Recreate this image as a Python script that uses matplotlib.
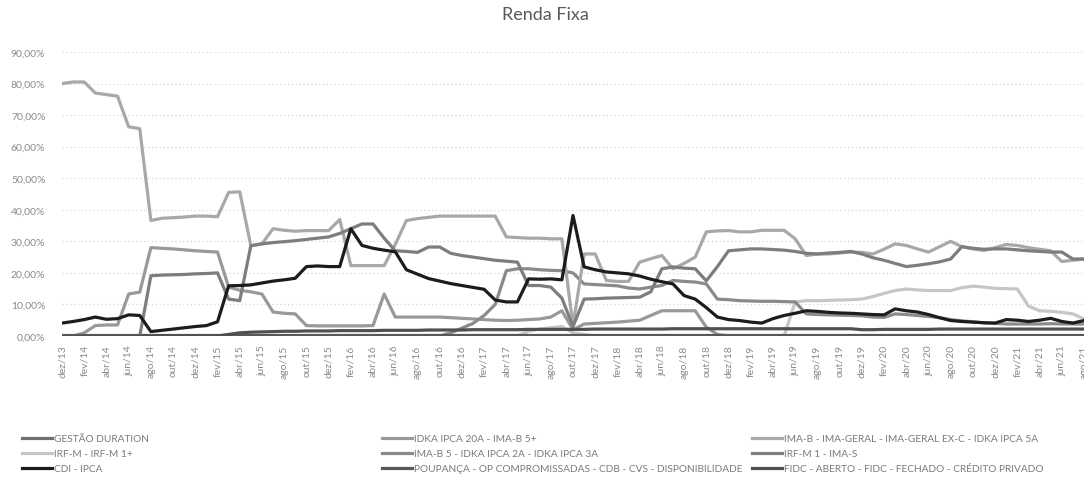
import matplotlib
matplotlib.use("Agg")
import matplotlib.pyplot as plt
from matplotlib.lines import Line2D

plt.rcParams['font.family'] = ['Lato', 'DejaVu Sans']

abbr = ["jan", "fev", "mar", "abr", "mai", "jun", "jul", "ago", "set", "out", "nov", "dez"]
months = ["dez/13"] + [f"{abbr[m]}/{y:02d}" for y in range(14, 22) for m in range(12)]
months = months[:93]  # dez/13 .. ago/21

s_imab = [80, 80.5, 80.5, 77, 76.5, 76, 66.3, 65.7, 36.6, 37.3, 37.5, 37.7,
          38, 38, 37.8, 45.5, 45.7, 28.6, 29.2, 34, 33.5, 33.2, 33.4, 33.4,
          33.4, 36.9, 22.3, 22.3, 22.3, 22.3, 29, 36.6, 37.2, 37.6, 38, 38,
          38, 38, 38, 38, 31.4, 31.2, 31, 31, 30.8, 30.8, 3.3, 26,
          26, 17.6, 17.3, 17.3, 23.4, 24.5, 25.5, 21.3, 23, 25, 33, 33.3,
          33.4, 33, 33, 33.5, 33.5, 33.5, 30.8, 25.5, 26, 26, 26.3, 26.6,
          26.5, 26, 27.5, 29.2, 28.7, 27.6, 26.6, 28.3, 30, 28.3, 27.6, 27.1,
          28, 29, 28.7, 28, 27.5, 27, 23.6, 24, 24.4]

s_irfm1 = [0, 0, 0, 0, 0, 0, 0, 0, 19.1, 19.3, 19.4, 19.5,
           19.7, 19.8, 20, 11.7, 11.2, 28.6, 29.2, 29.6, 29.9, 30.2, 30.6, 31,
           31.4, 32.5, 34, 35.5, 35.5, 31, 27, 26.8, 26.5, 28.2, 28.2, 26.2,
           25.5, 25, 24.5, 24, 23.7, 23.4, 16, 16, 15.5, 12, 3, 11.7,
           11.8, 12, 12.1, 12.2, 12.3, 14, 21.3, 21.9, 21.5, 21.3, 17.5, 22,
           27, 27.3, 27.6, 27.6, 27.4, 27.2, 26.8, 26.2, 26, 26.3, 26.5, 26.8,
           26, 24.8, 24, 23, 22, 22.4, 22.9, 23.5, 24.4, 28.3, 27.8, 27.5,
           27.6, 27.6, 27.3, 27, 26.8, 26.6, 26.6, 24.4, 24.4]

s_imab5 = [0] * 35 + [1, 2.5, 4, 6.5, 10, 20.7, 21.3, 21.3, 21, 20.8, 20.7, 20, 16.5,
           16.3, 16.1, 15.9, 15.2, 14.9, 15.5, 16, 17.6, 17.3, 17.1, 16.5, 11.7,
           11.5, 11.2, 11.1, 11, 11, 10.9, 10.8, 7, 6.8, 6.7, 6.6, 6.5,
           6.4, 6, 5.9, 7, 6.8, 6.5, 6.2, 5.8, 5.2, 4.8, 4.5, 4.2,
           4, 3.8, 3.8, 3.8, 3.8, 3.9, 3.8, 3.8, 3.8]

s_idka20 = [0, 0, 1, 3.3, 3.5, 3.5, 13.3, 13.9, 28, 27.8, 27.6, 27.3,
            27, 26.8, 26.6, 15.5, 14.5, 14, 13.3, 7.6, 7.2, 7, 3.3, 3.2,
            3.2, 3.2, 3.2, 3.2, 3.3, 13.3, 6, 6, 6, 6, 6, 5.8,
            5.6, 5.4, 5.2, 5, 4.9, 5, 5.2, 5.4, 6, 8, 2, 3.8,
            4, 4.2, 4.4, 4.7, 5, 6.5, 8, 8, 8, 8, 2.8, 0.5] + [0] * 33

s_irfm = [0] * 42 + [1.5, 2.2, 2.6, 3, 1, 0.5] + [0] * 18 + [
          10.8, 11.2, 11.2, 11.3, 11.4, 11.5, 11.7, 12.5, 13.5, 14.4, 14.9, 14.6,
          14.4, 14.4, 14.4, 15.3, 15.8, 15.5, 15.1, 15, 14.9, 9.5, 8, 7.8,
          7.5, 7, 5.4]

s_cdi = [4.1, 4.6, 5.2, 6.0, 5.3, 5.5, 6.7, 6.5, 1.4, 1.8, 2.2, 2.6,
         3.0, 3.3, 4.5, 15.9, 16.0, 16.2, 16.8, 17.4, 17.8, 18.3, 22.0, 22.2,
         22.0, 22.0, 34.0, 28.7, 27.8, 27.2, 26.7, 21.0, 19.6, 18.2, 17.4, 16.6,
         16.0, 15.4, 14.8, 11.4, 10.8, 10.8, 18.1, 18.0, 18.1, 17.8, 38.2, 21.9,
         21.0, 20.3, 20.0, 19.7, 19.0, 18.0, 17.2, 16.5, 12.8, 11.7, 9.0, 6.0,
         5.2, 4.9, 4.4, 4.1, 5.5, 6.5, 7.2, 8.0, 7.8, 7.5, 7.3, 7.2,
         7.0, 6.8, 6.7, 8.6, 8.0, 7.6, 6.8, 5.8, 4.9, 4.6, 4.4, 4.2,
         4.1, 5.2, 5.0, 4.6, 5.0, 5.6, 4.6, 4.1, 4.9]

s_fidc = [0] * 15 + [0.5, 1.0, 1.2, 1.3, 1.4, 1.5, 1.5, 1.6, 1.6, 1.6, 1.7, 1.7,
          1.7, 1.7, 1.8, 1.8, 1.8, 1.8, 1.9, 1.9, 1.9, 1.9, 2.0, 2.0,
          2.0, 2.0, 2.0, 2.1, 2.1, 2.1, 2.1, 2.1, 2.1, 2.2, 2.2, 2.2,
          2.2, 2.2, 2.2, 2.2, 2.3, 2.3, 2.3, 2.3, 2.3, 2.3, 2.3, 2.3,
          2.3, 2.3, 2.3, 2.3, 2.3, 2.3, 2.3, 2.3, 2.3, 2.0, 2.0, 2.1,
          2.1, 2.1, 2.1, 2.1, 2.2, 2.2, 2.2, 2.2, 2.2, 2.2, 2.2, 2.2,
          2.2, 2.2, 2.2, 2.2, 2.2, 2.2]

s_gestao = [0] * 93
s_poup = [0.2] * 93

series = [
    ("GESTÃO DURATION", s_gestao, "#6f6f6f"),
    ("IRF-M - IRF-M 1+", s_irfm, "#c6c6c6"),
    ("CDI - IPCA", s_cdi, "#1c1c1c"),
    ("IDKA IPCA 20A - IMA-B 5+", s_idka20, "#999999"),
    ("IMA-B 5 - IDKA IPCA 2A - IDKA IPCA 3A", s_imab5, "#8a8a8a"),
    ("POUPANÇA - OP COMPROMISSADAS - CDB - CVS - DISPONIBILIDADE", s_poup, "#585858"),
    ("IMA-B - IMA-GERAL - IMA-GERAL EX-C - IDKA IPCA 5A", s_imab, "#a8a8a8"),
    ("IRF-M 1 - IMA-S", s_irfm1, "#7d7d7d"),
    ("FIDC - ABERTO - FIDC - FECHADO - CRÉDITO PRIVADO", s_fidc, "#505050"),
]

W, H = 1084, 485
fig = plt.figure(figsize=(W / 100, H / 100), dpi=100)
x0, x1 = 62, 1084
y0, y1 = 337, 53
ax = fig.add_axes([x0 / W, 1 - y0 / H, (x1 - x0) / W, (y0 - y1) / H])

xs = list(range(len(months)))
zorder_map = {"CDI - IPCA": 5}
handles = {}
for name, vals, col in series:
    ax.plot(xs, vals, color=col, lw=2.3, solid_joinstyle='round',
            zorder=zorder_map.get(name, 3))
    handles[name] = Line2D([], [], color=col, lw=2.3)

ax.set_xlim(0, 91.82)
ax.set_ylim(0, 90)
ax.set_yticks(range(0, 91, 10))
ax.set_yticklabels([f"{v},00%" for v in range(0, 91, 10)])
ax.set_xticks(xs[::2])
ax.set_xticklabels(months[::2], rotation=90)
ax.tick_params(axis='y', length=0, pad=12, labelsize=7.5, labelcolor="#8a8a8a")
ax.tick_params(axis='x', length=0, pad=6, labelsize=7.5, labelcolor="#8a8a8a")
ax.grid(axis='y', color="#d0d0d0", lw=0.8, ls=(0, (1, 2.5)))
ax.set_axisbelow(True)
for sp in ax.spines.values():
    sp.set_visible(False)

fig.text(545 / W, 1 - 15 / H, "Renda Fixa", ha='center', va='center',
         fontsize=13, color="#5a5a5a")

cols = [
    (22, ["GESTÃO DURATION", "IRF-M - IRF-M 1+", "CDI - IPCA"]),
    (382, ["IDKA IPCA 20A - IMA-B 5+", "IMA-B 5 - IDKA IPCA 2A - IDKA IPCA 3A",
           "POUPANÇA - OP COMPROMISSADAS - CDB - CVS - DISPONIBILIDADE"]),
    (752, ["IMA-B - IMA-GERAL - IMA-GERAL EX-C - IDKA IPCA 5A", "IRF-M 1 - IMA-S",
           "FIDC - ABERTO - FIDC - FECHADO - CRÉDITO PRIVADO"]),
]
for xpx, names in cols:
    leg = fig.legend([handles[n] for n in names], names, loc='upper left',
                     bbox_to_anchor=(xpx / W, 1 - 435 / H), frameon=False,
                     fontsize=7.3, handlelength=3.0, handletextpad=0.15,
                     labelspacing=0.6, borderaxespad=0, borderpad=0)
    for t in leg.get_texts():
        t.set_color("#7a7a7a")

fig.savefig("out.png", dpi=100)
